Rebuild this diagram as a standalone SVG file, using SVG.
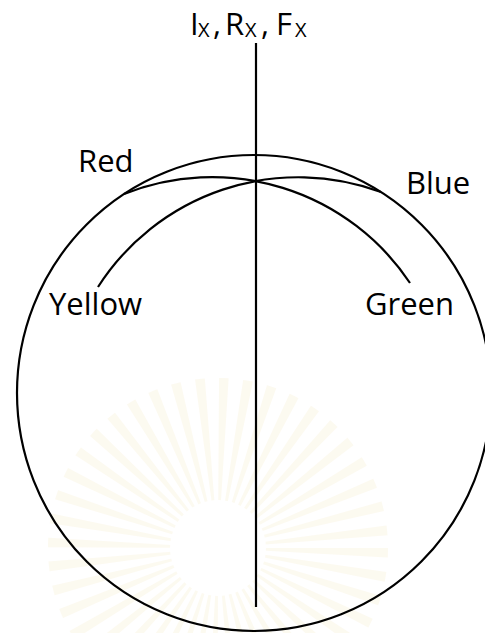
<svg xmlns="http://www.w3.org/2000/svg" width="485" height="633" viewBox="0 0 485 633">
<style>
.ln{fill:none;stroke:#000;stroke-width:2.2}
.lbl{font-family:"Open Sans","Liberation Sans",sans-serif;font-size:31px;fill:#000}
.sub{font-size:20px}
</style>
<rect width="485" height="633" fill="#fff"/>
<g id="watermark" opacity="0.45">
<circle cx="218" cy="548" r="105" fill="none" stroke="#f6ecc8" stroke-width="130" stroke-dasharray="6 9" opacity="0.6"/>
<circle cx="218" cy="548" r="48" fill="#fff"/>
</g>
<g id="sphere"><ellipse class="ln" cx="254" cy="393" rx="237" ry="238"/></g>
<g id="connectors">
<line id="axis" class="ln" x1="256" y1="43" x2="256" y2="607"/>
<path id="arc-yellow-blue" class="ln" d="M98 287 A238 238 0 0 1 381 192"/>
<path id="arc-red-green" class="ln" d="M124 194 A238 238 0 0 1 410 283"/>
</g>
<g id="title">
<text class="lbl" y="35"><tspan x="190">I</tspan><tspan class="sub" x="198" y="37">X</tspan><tspan x="213" y="35">,</tspan><tspan x="225">R</tspan><tspan class="sub" x="245" y="37">X</tspan><tspan x="261" y="35">,</tspan><tspan x="276">F</tspan><tspan class="sub" x="295" y="37">X</tspan></text>
</g>
<g id="red"><text class="lbl" x="78" y="172">Red</text></g>
<g id="blue"><text class="lbl" x="406" y="194">Blue</text></g>
<g id="yellow"><text class="lbl" x="49" y="315">Yellow</text></g>
<g id="green"><text class="lbl" x="365" y="315">Green</text></g>
</svg>
